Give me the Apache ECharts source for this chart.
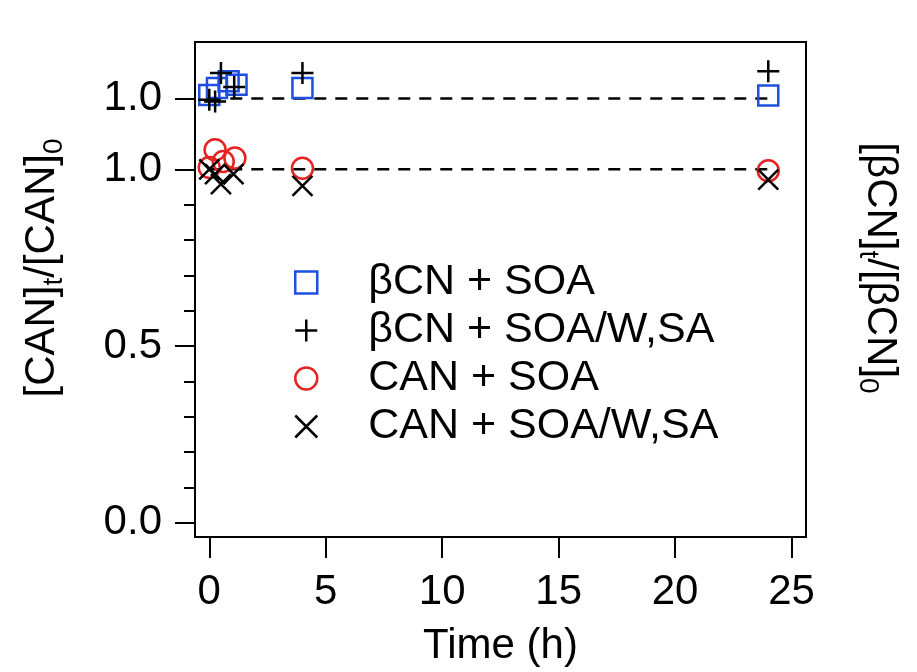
<!DOCTYPE html>
<html>
<head>
<meta charset="utf-8">
<script src="https://cdn.jsdelivr.net/npm/echarts@6/dist/echarts.min.js"></script>
<style>
html,body{margin:0;padding:0;background:#fff;}
#chart{width:917px;height:672px;}
</style>
</head>
<body>
<div id="chart"></div>
<script>
// ---- data ----
const seriesNames = ['βCN + SOA', 'βCN + SOA/W,SA', 'CAN + SOA', 'CAN + SOA/W,SA'];
const timeBcnSoa = [0, 0.33, 0.83, 1.17, 4, 24];
const valBcnSoa  = [1.01, 1.03, 1.049, 1.039, 1.03, 1.009];
const timeBcnW   = [0, 0.25, 0.5, 1.07, 4, 24];
const valBcnW    = [0.997, 0.992, 1.072, 1.033, 1.072, 1.077];
const timeCanSoa = [0, 0.25, 0.6, 1.1, 4, 24];
const valCanSoa  = [1.005, 1.055, 1.022, 1.032, 1.003, 0.996];
const timeCanW   = [0, 0.25, 0.5, 1.04, 4, 24];
const valCanW    = [1.0, 0.986, 0.958, 0.986, 0.953, 0.971];
const refTime    = [0, 24];
const refValue   = [1, 1];
const bcnOffset  = 0.2;   // βCN data are drawn 0.2 above on the shared scale
const xTicks     = [0, 5, 10, 15, 20, 25];
const yMajorTicks = [0, 0.5, 1.0, 1.2];
const yMajorLabels = ['0.0', '0.5', '1.0', '1.0'];
const yMinorTicks = [0.1, 0.2, 0.3, 0.4, 0.6, 0.7, 0.8, 0.9];

const FONT = 'Liberation Sans, Arial, sans-serif';
const BLUE = '#1f4fe0';
const RED = '#e42222';
const BLACK = '#000';

const SQ = 'path://M0,0L20,0L20,20L0,20Z';
const PLUS = 'path://M0,10L20,10M10,0L10,20';
const CROSS = 'path://M0,0L20,20M20,0L0,20';

function pts(t, v, off) { return t.map((x, i) => [x, v[i] + (off || 0)]); }

const chart = echarts.init(document.getElementById('chart'), null, {renderer: 'canvas'});

const markerStyle = (c, w) => ({color: 'rgba(0,0,0,0)', borderColor: c, borderWidth: w, opacity: 1});

const option = {
  animation: false,
  backgroundColor: '#fff',
  grid: {left: 195, right: 111, top: 42, bottom: 132, show: true, borderColor: BLACK, borderWidth: 2, backgroundColor: 'transparent'},
  xAxis: {
    type: 'value', min: -0.613, max: 25.62,
    axisLine: {show: true, onZero: false, lineStyle: {color: BLACK, width: 2}},
    axisTick: {show: true, customValues: xTicks, length: 21, lineStyle: {color: BLACK, width: 2}},
    axisLabel: {customValues: xTicks, fontSize: 42, color: BLACK, fontFamily: FONT, margin: 34},
    splitLine: {show: false},
    name: 'Time (h)', nameLocation: 'middle', nameGap: 88,
    nameTextStyle: {fontSize: 42, color: BLACK, fontFamily: FONT}
  },
  yAxis: [{
    type: 'value', min: -0.04, max: 1.36, position: 'left',
    axisLine: {show: true, onZero: false, lineStyle: {color: BLACK, width: 2}},
    axisTick: {show: true, customValues: yMajorTicks, length: 20, lineStyle: {color: BLACK, width: 2}},
    axisLabel: {customValues: yMajorTicks, fontSize: 42, color: BLACK, fontFamily: FONT, margin: 33,
      formatter: v => { const i = yMajorTicks.findIndex(t => Math.abs(t - v) < 1e-6); return i >= 0 ? yMajorLabels[i] : ''; }},
    splitLine: {show: false}
  }, {
    type: 'value', min: -0.04, max: 1.36, position: 'left', offset: 0,
    axisLine: {show: false, onZero: false},
    axisTick: {show: true, customValues: yMinorTicks, length: 11, lineStyle: {color: BLACK, width: 2}},
    axisLabel: {show: false},
    splitLine: {show: false}
  }],
  legend: {
    orient: 'vertical', left: 289, top: 256, itemGap: 5,
    itemWidth: 114, itemHeight: 22, symbolKeepAspect: true,
    textStyle: {fontSize: 43, color: BLACK, fontFamily: FONT},
    data: [
      {name: seriesNames[0], icon: SQ, itemStyle: markerStyle(BLUE, 2.5)},
      {name: seriesNames[1], icon: PLUS, itemStyle: markerStyle(BLACK, 2.5)},
      {name: seriesNames[2], icon: 'circle', itemStyle: markerStyle(RED, 2.5)},
      {name: seriesNames[3], icon: CROSS, itemStyle: markerStyle(BLACK, 2.5)}
    ]
  },
  graphic: [
    {type: 'text', x: 42, y: 268, rotation: Math.PI / 2, silent: true,
     style: {text: '{a|[CAN]}{s|t}{a|/[CAN]}{s|0}', align: 'center', verticalAlign: 'middle', fill: BLACK,
       rich: {a: {fontSize: 42, fontFamily: FONT, fill: BLACK}, s: {fontSize: 28, fontFamily: FONT, fill: BLACK, padding: [25, 0, 0, 0]}}}},
    {type: 'text', x: 880, y: 268, rotation: -Math.PI / 2, silent: true,
     style: {text: '{a|[βCN]}{s|t}{a|/[βCN]}{s|0}', align: 'center', verticalAlign: 'middle', fill: BLACK,
       rich: {a: {fontSize: 42, fontFamily: FONT, fill: BLACK}, s: {fontSize: 28, fontFamily: FONT, fill: BLACK, padding: [25, 0, 0, 0]}}}}
  ],
  series: [
    {type: 'line', data: pts(refTime, refValue, bcnOffset), symbol: 'none', silent: true, z: 1,
     lineStyle: {color: BLACK, width: 2.5, type: [12, 9]}},
    {type: 'line', data: pts(refTime, refValue, 0), symbol: 'none', silent: true, z: 1,
     lineStyle: {color: BLACK, width: 2.5, type: [12, 9]}},
    {name: seriesNames[0], type: 'scatter', data: pts(timeBcnSoa, valBcnSoa, bcnOffset), symbol: SQ, symbolSize: 20,
     itemStyle: markerStyle(BLUE, 2.5), z: 3},
    {name: seriesNames[1], type: 'scatter', data: pts(timeBcnW, valBcnW, bcnOffset), symbol: PLUS, symbolSize: 22,
     itemStyle: markerStyle(BLACK, 2.5), z: 4},
    {name: seriesNames[2], type: 'scatter', data: pts(timeCanSoa, valCanSoa, 0), symbol: 'circle', symbolSize: 21,
     itemStyle: markerStyle(RED, 2.5), z: 3},
    {name: seriesNames[3], type: 'scatter', data: pts(timeCanW, valCanW, 0), symbol: CROSS, symbolSize: 20,
     itemStyle: markerStyle(BLACK, 2.5), z: 4}
  ]
};
chart.setOption(option);
</script>
</body>
</html>
